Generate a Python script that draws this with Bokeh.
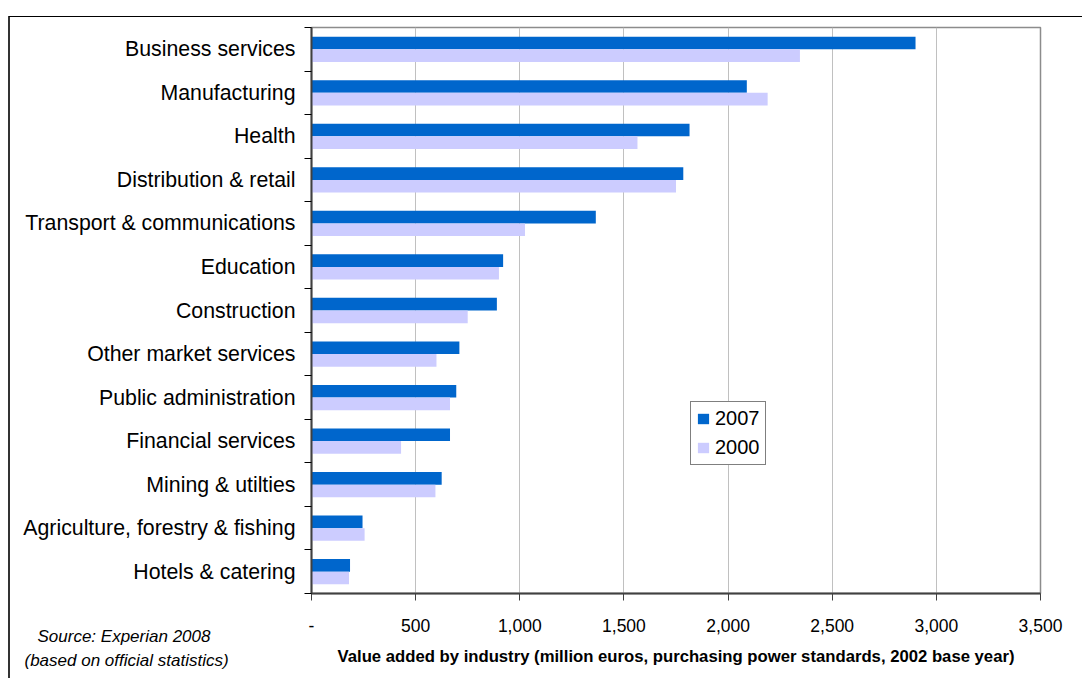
from bokeh.plotting import figure
from bokeh.models import ColumnDataSource, Range1d, FixedTicker, NumeralTickFormatter, Label
from bokeh.transform import dodge
from bokeh.embed import file_html
from bokeh.resources import INLINE

categories = ["Business services", "Manufacturing", "Health", "Distribution & retail",
              "Transport & communications", "Education", "Construction",
              "Other market services", "Public administration", "Financial services",
              "Mining & utilties", "Agriculture, forestry & fishing", "Hotels & catering"]
v2007 = [2900, 2090, 1815, 1785, 1365, 920, 890, 710, 695, 665, 625, 245, 185]
v2000 = [2345, 2190, 1565, 1750, 1025, 900, 750, 600, 665, 430, 595, 255, 180]
x_ticks = [0, 500, 1000, 1500, 2000, 2500, 3000, 3500]
series_names = ["2007", "2000"]
x_title = "Value added by industry (million euros, purchasing power standards, 2002 base year)"
source_lines = ["Source: Experian 2008", "(based on official statistics)"]

n = len(categories)
ypos = [n - i for i in range(n)]
src = ColumnDataSource(dict(y=ypos, cat=categories, v2007=v2007, v2000=v2000))

FONT = "Liberation Sans, Arial, sans-serif"

p = figure(frame_width=729, frame_height=566,
           min_border_left=311, min_border_right=42, min_border_top=27, min_border_bottom=77,
           x_range=Range1d(0, 3500), y_range=Range1d(0.5, n + 0.5),
           output_backend="svg", toolbar_location=None, tools="")
# outer chart-area border (top and left edges, as in the reference)
p.styles = {"background": "linear-gradient(#000,#000) 9px 16px / 100% 1px no-repeat, "
                          "linear-gradient(#333,#333) 8px 16px / 2px 100% no-repeat, #ffffff"}

p.background_fill_color = "white"
p.border_fill_color = None
p.outline_line_color = "#8c8c8c"
p.outline_line_width = 1.5

bh = 0.29
p.hbar(y=dodge("y", bh / 2, range=p.y_range), right="v2007", left=0, height=bh, source=src,
       fill_color="#0066CC", line_color=None, legend_label=series_names[0])
p.hbar(y=dodge("y", -bh / 2, range=p.y_range), right="v2000", left=0, height=bh, source=src,
       fill_color="#CCCCFF", line_color=None, legend_label=series_names[1])

xa = p.xaxis[0]
xa.ticker = FixedTicker(ticks=x_ticks, minor_ticks=[])
xa.formatter = NumeralTickFormatter(format="0,0")
xa.major_label_overrides = {0: "-"}
xa.axis_line_color = "#404040"
xa.axis_line_width = 2
xa.major_tick_line_color = "#404040"
xa.major_tick_out = 7
xa.major_tick_in = 0
xa.minor_tick_line_color = None
xa.major_label_standoff = 18
xa.major_label_text_font = FONT
xa.major_label_text_font_size = "17.5px"
xa.major_label_text_color = "#000000"
xa.axis_label = x_title
xa.axis_label_text_font = FONT
xa.axis_label_text_font_style = "bold"
xa.axis_label_text_font_size = "16.7px"
xa.axis_label_text_color = "#000000"
xa.axis_label_standoff = 12

ya = p.yaxis[0]
ya.ticker = FixedTicker(ticks=ypos, minor_ticks=[k + 0.5 for k in range(n + 1)])
ya.major_label_overrides = {y: c for y, c in zip(ypos, categories)}
ya.axis_line_color = "#404040"
ya.axis_line_width = 2
ya.major_tick_line_color = None
ya.major_tick_out = 0
ya.major_tick_in = 0
ya.minor_tick_line_color = "#000000"
ya.minor_tick_out = 7
ya.minor_tick_in = 0
ya.major_label_standoff = 9
ya.major_label_text_font = FONT
ya.major_label_text_font_size = "21.3px"
ya.major_label_text_color = "#000000"

p.xgrid.ticker = FixedTicker(ticks=x_ticks, minor_ticks=[])
p.xgrid.grid_line_color = "#c0c0c0"
p.xgrid.grid_line_width = 1
p.ygrid.visible = False

lg = p.legend[0]
lg.location = (379, 128)
lg.border_line_color = "#000000"
lg.border_line_width = 1
lg.background_fill_color = "white"
lg.background_fill_alpha = 1
lg.glyph_width = 14
lg.glyph_height = 13
lg.label_standoff = 5
lg.label_text_font = FONT
lg.label_text_font_size = "20px"
lg.label_text_color = "#000000"
lg.padding = 5
lg.spacing = 6
lg.margin = 0

# source note (placed in the lower side panel so that it is not clipped to the frame)
src_x = [37, 24]
src_y = [636, 660]
for t, sx, sy in zip(source_lines, src_x, src_y):
    p.add_layout(Label(x=sx, y=sy, x_units="canvas", y_units="canvas",
                       text=t, text_font=FONT, text_font_style="italic",
                       text_font_size="17px", text_color="#000000",
                       text_align="left", text_baseline="middle"), "below")

open("out.html", "w").write(file_html(p, INLINE))
